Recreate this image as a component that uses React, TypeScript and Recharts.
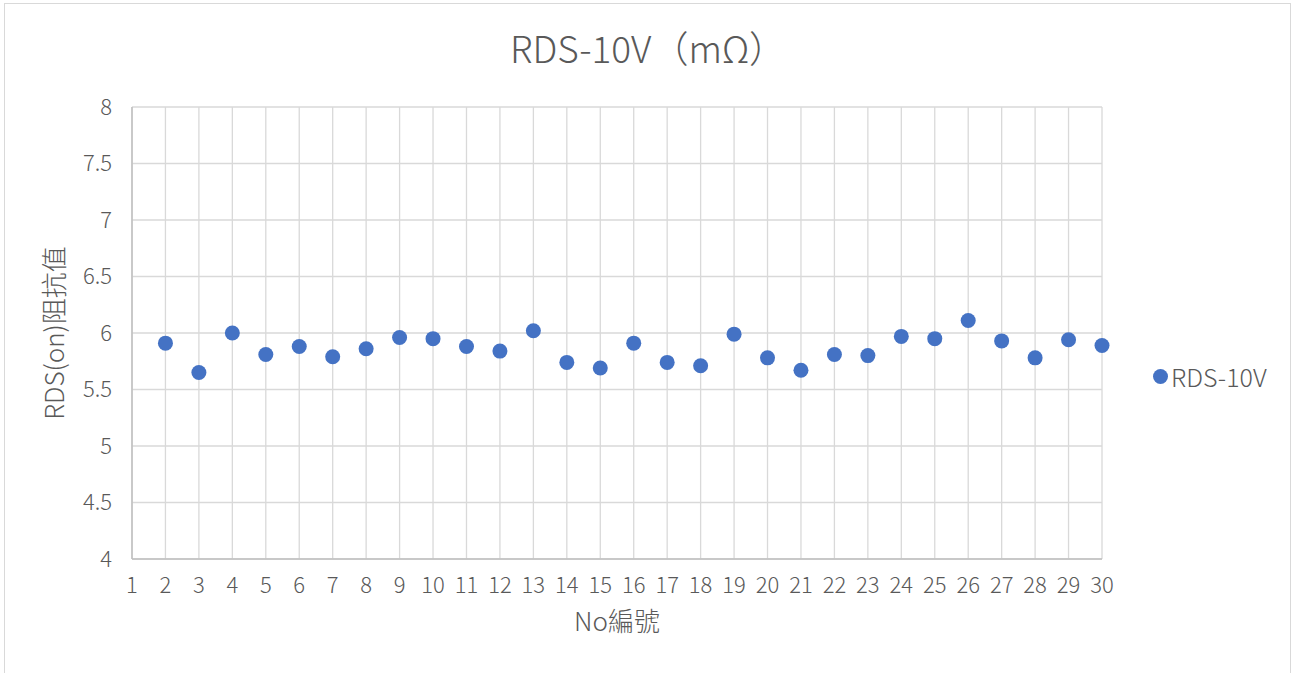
import React from 'react';
import {
  ScatterChart,
  Scatter,
  XAxis,
  YAxis,
  CartesianGrid,
  Label,
} from 'recharts';

const categories = [2, 3, 4, 5, 6, 7, 8, 9, 10, 11, 12, 13, 14, 15, 16, 17, 18, 19, 20, 21, 22, 23, 24, 25, 26, 27, 28, 29, 30];
const rdsValues = [5.91, 5.65, 6.0, 5.81, 5.88, 5.79, 5.86, 5.96, 5.95, 5.88, 5.84, 6.02, 5.74, 5.69, 5.91, 5.74, 5.71, 5.99, 5.78, 5.67, 5.81, 5.8, 5.97, 5.95, 6.11, 5.93, 5.78, 5.94, 5.89];
const xTicks = [1, 2, 3, 4, 5, 6, 7, 8, 9, 10, 11, 12, 13, 14, 15, 16, 17, 18, 19, 20, 21, 22, 23, 24, 25, 26, 27, 28, 29, 30];
const yTicks = [4, 4.5, 5, 5.5, 6, 6.5, 7, 7.5, 8];

const seriesName = 'RDS-10V';
const chartTitle = 'RDS-10V（mΩ）';
const xTitle = 'No編號';
const yTitle = 'RDS(on)阻抗值';

const data = categories.map((c, i) => ({ no: c, value: rdsValues[i] }));

const FONT = "'Noto Sans CJK TC', 'Noto Sans', sans-serif";
const WEIGHT = 300;
const TEXT = '#595959';
const BLUE = '#4472C4';

const Dot = (props: any) => {
  const { cx, cy } = props;
  if (cx == null || cy == null) return null;
  return <circle cx={cx} cy={cy} r={7.5} fill={BLUE} />;
};

export default function App() {
  return (
    <div style={{ position: 'absolute', left: 0, top: 0, width: 1293, height: 673, background: '#fff', fontFamily: FONT, fontWeight: WEIGHT }}>
      <div
        style={{
          position: 'absolute',
          left: 4,
          top: 3,
          width: 1287,
          height: 680,
          border: '1px solid #d9d9d9',
          boxSizing: 'border-box',
        }}
      />
      <div
        style={{
          position: 'absolute',
          left: 448,
          width: 400,
          top: 25,
          textAlign: 'center',
          fontSize: 37,
          color: TEXT,
          lineHeight: '44px',
          whiteSpace: 'nowrap',
        }}
      >
        {chartTitle}
      </div>
      <div style={{ position: 'absolute', left: 0, top: 0 }}>
        <ScatterChart
          width={1293}
          height={673}
          margin={{ top: 107, right: 191, bottom: 74, left: 72 }}
        >
          <CartesianGrid stroke="#d9d9d9" strokeWidth={1.3} />
          <XAxis
            type="number"
            dataKey="no"
            domain={[1, 30]}
            ticks={xTicks}
            interval={0}
            height={40}
            tickLine={false}
            tickSize={0}
            tickMargin={18}
            axisLine={{ stroke: '#bfbfbf', strokeWidth: 1.5 }}
            tick={{ fill: TEXT, fontSize: 22, fontFamily: FONT, fontWeight: WEIGHT }}
          >
            <Label
              value={xTitle}
              position="bottom"
              offset={14}
              style={{ fill: TEXT, fontSize: 26, fontFamily: FONT, fontWeight: WEIGHT }}
            />
          </XAxis>
          <YAxis
            type="number"
            dataKey="value"
            domain={[4, 8]}
            ticks={yTicks}
            interval={0}
            width={60}
            tickLine={false}
            tickSize={0}
            tickMargin={20}
            axisLine={{ stroke: '#bfbfbf', strokeWidth: 1.5 }}
            tick={{ fill: TEXT, fontSize: 22, fontFamily: FONT, fontWeight: WEIGHT }}
          >
            <Label
              value={yTitle}
              angle={-90}
              position="insideLeft"
              offset={-17}
              style={{ fill: TEXT, fontSize: 26, fontFamily: FONT, fontWeight: WEIGHT, textAnchor: 'middle' }}
            />
          </YAxis>
          <Scatter name={seriesName} data={data} fill={BLUE} shape={Dot} isAnimationActive={false} />
        </ScatterChart>
      </div>
      <div
        style={{
          position: 'absolute',
          left: 1153,
          top: 360,
          display: 'flex',
          alignItems: 'center',
          fontSize: 25,
          color: TEXT,
          lineHeight: '32px',
          whiteSpace: 'nowrap',
        }}
      >
        <span
          style={{
            display: 'inline-block',
            width: 15,
            height: 15,
            borderRadius: '50%',
            background: BLUE,
            marginRight: 3,
          }}
        />
        {seriesName}
      </div>
    </div>
  );
}
